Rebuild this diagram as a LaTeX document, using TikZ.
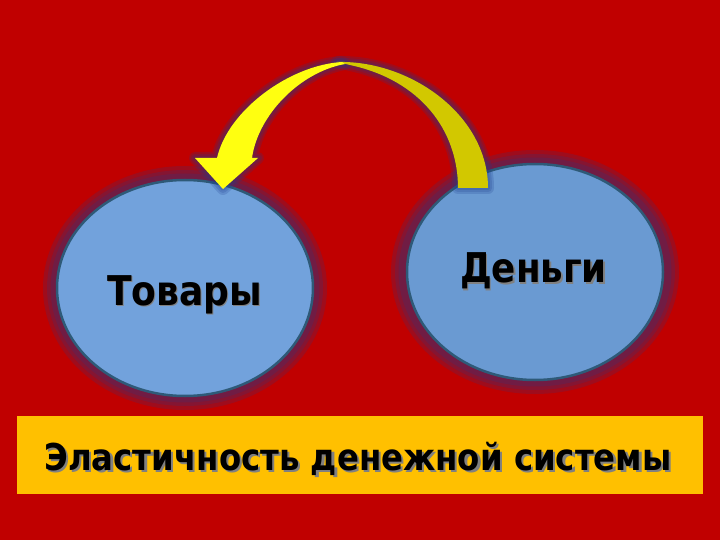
\documentclass[tikz,border=0pt]{standalone}
\usepackage{fontspec}
\setmainfont{DejaVu Sans}
\usetikzlibrary{shapes.geometric}
\definecolor{bg}{HTML}{C00000}
\definecolor{boxc}{HTML}{FFC000}
\definecolor{ellA}{HTML}{72A2DC}
\definecolor{ellB}{HTML}{6A9AD2}
\definecolor{rim}{HTML}{2E5A78}
\definecolor{glowc}{HTML}{1E3C8C}
\definecolor{ylw}{HTML}{FFFF10}
\definecolor{olive}{HTML}{D2C800}
\newcommand{\shadowed}[3]{\rlap{\hspace*{#2}\raisebox{-#2}{\textcolor{black!50}{#1}}}#1}
\begin{document}
\begin{tikzpicture}[x=1pt,y=-1pt,
  bubble/.style={ellipse, draw=rim, line width=2.5pt, inner sep=0pt,
    minimum width=256pt, minimum height=216pt},
  glow/.style={draw=glowc, opacity=0.2},
  bigtext/.style={font=\bfseries\fontsize{41}{41}\selectfont, inner sep=0pt, anchor=base},
  banner/.style={fill=boxc, draw=none, minimum width=686pt, minimum height=78pt, inner sep=0pt}]
\useasboundingbox (0,0) rectangle (720,540);
\fill[bg] (0,0) rectangle (720,540);

% glows around bubbles
\foreach \w in {28,20,13} {
  \draw[glow, line width=\w pt] (185,288) ellipse [x radius=128pt, y radius=108pt];
  \draw[glow, line width=\w pt] (535,272) ellipse [x radius=130pt, y radius=108pt];
}

% bubbles
\node[bubble, fill=ellA] (tov) at (185,288) {};
\node[bubble, fill=ellB] (den) at (535,272) {};

% arrow (twisted ribbon)
\def\rightpart{(337,62) .. controls (410,60) and (488,115) .. (488,188) -- (458,188) .. controls (458,130) and (420,80) .. (350,65) -- cycle}
\def\leftpart{(342,62) .. controls (290,65) and (228,110) .. (217,158) -- (195,158) -- (223,189) -- (258,158) -- (252,158) .. controls (258,115) and (300,72) .. (345,64) -- cycle}
\foreach \w in {12,8,4} {
  \draw[glow, line width=\w pt, line join=round] \rightpart;
  \draw[glow, line width=\w pt, line join=round] \leftpart;
}
\fill[olive] \rightpart;
\fill[ylw] \leftpart;

% bubble texts
\node[bigtext] (tovt) at (184.5,305) {\resizebox{155pt}{\height}{\shadowed{Товары}{1.5pt}{}}};
\node[bigtext] (dent) at (533.5,283) {\resizebox{147pt}{\height}{\shadowed{Деньги}{1.5pt}{}}};

% banner
\node[banner] (ban) at (360,455) {};
\node[inner sep=0pt, anchor=base] (bant) at (358,470)
  {\resizebox{627pt}{\height}{\bfseries\fontsize{37}{37}\selectfont\shadowed{Эластичность денежной системы}{2.5pt}{}}};
\end{tikzpicture}
\end{document}
